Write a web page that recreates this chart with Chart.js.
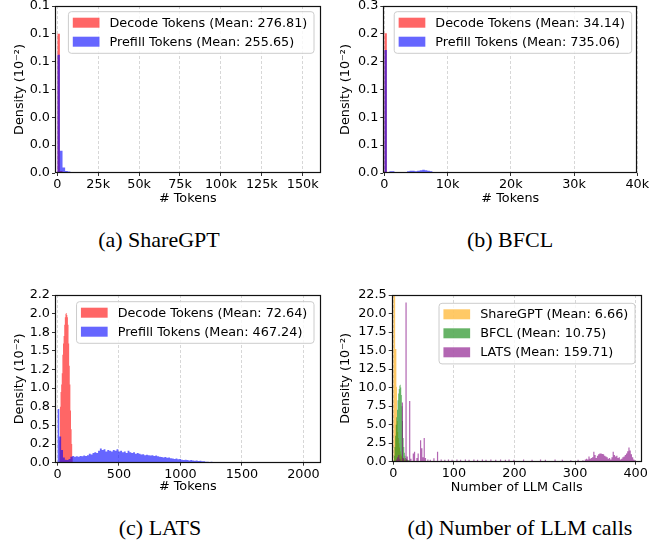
<!DOCTYPE html>
<html>
<head>
<meta charset="utf-8">
<script src="https://cdn.jsdelivr.net/npm/chart.js@4.4.1/dist/chart.umd.min.js"></script>
<style>
  body { margin: 0; background: #fff; }
  #page { position: relative; width: 659px; height: 541px; overflow: hidden; background: #fff; }
  canvas { position: absolute; }
  .caption { position: absolute; font-family: "Liberation Serif", "Times New Roman", serif; font-size: 22px; line-height: 24px; text-align: center; color: #000; white-space: nowrap; }
</style>
</head>
<body>
<div id="page">
  <canvas id="chartA" width="329" height="215" style="left:0;top:0"></canvas>
  <canvas id="chartB" width="329" height="215" style="left:330px;top:0"></canvas>
  <canvas id="chartC" width="329" height="215" style="left:0;top:280px"></canvas>
  <canvas id="chartD" width="329" height="215" style="left:330px;top:280px"></canvas>
  <div class="caption" style="left:0;top:228px;width:318px">(a) ShareGPT</div>
  <div class="caption" style="left:380px;top:228px;width:260px">(b) BFCL</div>
  <div class="caption" style="left:0;top:516px;width:320px">(c) LATS</div>
  <div class="caption" style="left:380px;top:516px;width:280px">(d) Number of LLM calls</div>
</div>
<script>
// (a) ShareGPT token histogram, bins of 1600 tokens starting at 0
var sharegptBinWidth = 1600;
var sharegptDecode = [0.100, 0.0015, 0.0003];
var sharegptPrefill = [0.085, 0.016, 0.004, 0.0015, 0.001, 0.0006, 0.0004, 0.0003, 0.0002, 0.0002];

// (b) BFCL token histogram, bins of 400 tokens starting at 0
var bfclBinWidth = 400;
var bfclDecode = [0.251, 0.0005];
var bfclPrefill = [0.221, 0.002, 0.003, 0.003, 0.002, 0.001, 0.001, 0.001, 0.002, 0.003,
                   0.004, 0.004, 0.003, 0.004, 0.005, 0.006, 0.005, 0.004, 0.003, 0.001];

// (c) LATS token histogram
var latsDecodeFirstBin = 15, latsDecodeBinWidth = 5;
var latsDecode = [0.3, 0.75, 0.95, 1.05, 1.2, 1.45, 1.6, 1.7, 1.85, 1.95, 2.0, 2.01,
                  1.98, 1.95, 1.85, 1.6, 1.3, 1.05, 0.7, 0.45, 0.25, 0.08];
var latsPrefillFirstBin = 0, latsPrefillBinWidth = 15;
var latsPrefill = [
  0.72, 0.35, 0.17, 0.07, 0.04, 0.035, 0.05, 0.08, 0.09, 0.08,
  0.085, 0.08, 0.09, 0.085, 0.095, 0.09, 0.10, 0.12, 0.11, 0.13,
  0.14, 0.13, 0.16, 0.19, 0.17, 0.18, 0.15, 0.17, 0.16, 0.15,
  0.17, 0.16, 0.18, 0.15, 0.16, 0.14, 0.15, 0.13, 0.16, 0.14,
  0.13, 0.14, 0.12, 0.13, 0.12, 0.11, 0.115, 0.10, 0.105, 0.10,
  0.095, 0.10, 0.09, 0.095, 0.085, 0.08, 0.075, 0.07, 0.075, 0.065,
  0.07, 0.06, 0.055, 0.05, 0.055, 0.045, 0.05, 0.04, 0.035, 0.04,
  0.035, 0.03, 0.035, 0.03, 0.025, 0.028, 0.022, 0.025, 0.018, 0.02,
  0.012, 0.014, 0.01, 0.012, 0.008, 0.009, 0.006, 0.007, 0.005, 0.006,
  0.004, 0.004, 0.003, 0.004, 0.003, 0.002, 0.003, 0.002, 0.002, 0.003,
  0.002, 0.002, 0.001, 0.002, 0.001, 0.002, 0.001, 0.002, 0.001
];

// (d) number of LLM calls
var sharegptCallsFirstBin = 0, sharegptCallsBinWidth = 1;
var sharegptCalls = [24, 24, 24, 15.2, 15.2, 10.1, 5.5, 4.0, 3.2, 2.5, 1.9, 1.4, 1.0, 0.8, 0.6, 0.5,
                     0.4, 0.35, 0.3, 0.25, 0.2, 0.2, 0.15, 0.15, 0.12, 0.1, 0.1, 0.08, 0.08, 0.06, 0.05];
var bfclCallsFirstBin = 1, bfclCallsBinWidth = 1;
var bfclCalls = [0.8, 2.0, 3.5, 5.0, 6.0, 7.0, 8.3, 9.2, 9.8, 10.3, 10.4, 10.0, 9.0, 7.5, 5.5, 3.2,
                 2.0, 1.2, 0.8, 0.5, 0.4, 0.3, 0.25, 0.2, 0.18, 0.15, 0.12, 0.1, 0.1, 0.08,
                 0.07, 0.06, 0.05, 0.05, 0.04, 0.04, 0.03, 0.03, 0.03, 0.02];
var latsCallsBinWidth = 2;
var latsCallsStarts = [
  4, 6, 8, 10, 14, 16, 20, 22, 26, 28,
  32, 34, 38, 40, 44, 46, 48, 50, 52, 56,
  60, 66, 72, 78, 84, 90, 96, 104, 110, 118,
  124, 132, 138, 146, 152, 160, 168, 176, 184, 190,
  198, 214, 228, 242, 250, 266, 278, 292, 304,
  312, 314, 316, 318, 320, 322, 324, 326, 328, 330,
  332, 334, 336, 338, 340, 342, 344, 346, 348, 350,
  352, 354, 356, 358, 360, 362, 364, 366, 368, 370,
  372, 374, 376, 378, 380, 382, 384, 386, 388, 390,
  392, 394, 396, 398, 400
];
var latsCalls = [
  0.3, 0.6, 0.9, 0.4, 8.0, 0.5, 21.5, 0.7, 8.2, 0.4,
  1.1, 1.35, 0.5, 1.1, 2.9, 1.8, 0.6, 3.2, 0.5, 0.3,
  0.25, 0.45, 1.35, 0.3, 0.25, 0.3, 0.25, 0.3, 0.25, 0.3,
  0.25, 0.3, 0.25, 0.3, 0.25, 0.3, 0.25, 0.3, 0.25, 0.3,
  0.25, 0.3, 0.25, 0.3, 0.25, 0.3, 0.25, 0.2, 0.25,
  0.2, 0.1, 0.3, 0.4, 0.3, 0.7, 0.4, 0.5, 0.6, 1.35,
  0.9, 0.5, 0.8, 1.0, 1.1, 1.1, 1.05, 1.0, 0.8, 0.7,
  0.6, 0.4, 0.5, 0.3, 0.6, 1.35, 0.9, 0.7, 0.8, 0.5,
  0.6, 0.3, 0.4, 0.6, 0.7, 0.9, 1.1, 1.4, 1.9, 1.5,
  1.0, 0.6, 0.3, 0.2, 0.1
];

// axis ticks
var tokenTicksA = [0, 25000, 50000, 75000, 100000, 125000, 150000];
var tokenLabelsA = ['0', '25k', '50k', '75k', '100k', '125k', '150k'];
var tokenTicksB = [0, 10000, 20000, 30000, 40000];
var tokenLabelsB = ['0', '10k', '20k', '30k', '40k'];
var tokenTicksC = [0, 500, 1000, 1500, 2000];
var tokenLabelsC = ['0', '500', '1000', '1500', '2000'];
var callTicks = [0, 100, 200, 300, 400];
var callLabels = ['0', '100', '200', '300', '400'];
var densityTicksA = [0, 0.02, 0.04, 0.06, 0.08, 0.10, 0.12];
var densityLabelsA = ['0.0', '0.0', '0.0', '0.1', '0.1', '0.1', '0.1'];
var densityTicksB = [0, 0.05, 0.10, 0.15, 0.20, 0.25, 0.30];
var densityLabelsB = ['0.0', '0.1', '0.1', '0.1', '0.2', '0.2', '0.3'];
var densityTicksC = [0, 0.25, 0.5, 0.75, 1.0, 1.25, 1.5, 1.75, 2.0, 2.25];
var densityLabelsC = ['0.0', '0.2', '0.5', '0.8', '1.0', '1.2', '1.5', '1.8', '2.0', '2.2'];
var densityTicksD = [0, 2.5, 5, 7.5, 10, 12.5, 15, 17.5, 20, 22.5];
var densityLabelsD = ['0.0', '2.5', '5.0', '7.5', '10.0', '12.5', '15.0', '17.5', '20.0', '22.5'];

var RED = 'rgba(255,0,0,0.6)', BLUE = 'rgba(0,0,255,0.6)';
var ORANGE = 'rgba(255,165,0,0.6)', GREEN = 'rgba(0,128,0,0.6)', PURPLE = 'rgba(128,0,128,0.6)';
var FONT = '"DejaVu Sans", sans-serif';
var FONT_SIZE = 12.8;

Chart.defaults.font.family = FONT;
Chart.defaults.font.size = FONT_SIZE;
Chart.defaults.color = '#000';

// bin start positions for a run of equal bins
function evenStarts(first, width, count) {
  var s = [];
  for (var i = 0; i < count; i++) s.push(first + i * width);
  return s;
}

// histogram outline as points for a stepped line (drops to 0 where bins are not adjacent)
function histPoints(starts, values, width) {
  var pts = [];
  for (var i = 0; i < starts.length; i++) {
    var end = starts[i] + width;
    pts.push({ x: starts[i], y: values[i] });
    if (i === starts.length - 1 || starts[i + 1] !== end) pts.push({ x: end, y: 0 });
  }
  return pts;
}

// black box round the plot area
var framePlugin = {
  id: 'frame',
  afterDraw: function (chart) {
    var a = chart.chartArea, ctx = chart.ctx;
    ctx.save();
    ctx.strokeStyle = '#111';
    ctx.lineWidth = 1.2;
    ctx.strokeRect(Math.round(a.left) + 0.5, Math.round(a.top) + 0.5,
                   Math.round(a.right) - Math.round(a.left) - 1, Math.round(a.bottom) - Math.round(a.top) - 1);
    ctx.restore();
  }
};

// matplotlib style legend in the upper right
var boxLegendPlugin = {
  id: 'boxLegend',
  afterDraw: function (chart, args, opts) {
    var ctx = chart.ctx, sets = chart.data.datasets;
    ctx.save();
    ctx.font = FONT_SIZE + 'px ' + FONT;
    var textW = Math.max.apply(null, sets.map(function (d) { return ctx.measureText(d.label).width; }));
    var w = 4.4 + 26.7 + 10 + textW + 6.7;
    var h = 22.6 + 19 * (sets.length - 1);
    var x = opts.right - w, y = opts.top, r = 3;
    ctx.beginPath();
    ctx.moveTo(x + r, y);
    ctx.arcTo(x + w, y, x + w, y + h, r);
    ctx.arcTo(x + w, y + h, x, y + h, r);
    ctx.arcTo(x, y + h, x, y, r);
    ctx.arcTo(x, y, x + w, y, r);
    ctx.closePath();
    ctx.fillStyle = 'rgba(255,255,255,0.8)';
    ctx.fill();
    ctx.strokeStyle = '#cccccc';
    ctx.lineWidth = 1;
    ctx.stroke();
    sets.forEach(function (d, i) {
      var cy = y + 11 + 19 * i;
      ctx.fillStyle = d.backgroundColor;
      ctx.fillRect(x + 4.4, cy - 5, 26.7, 10);
      ctx.fillStyle = '#000';
      ctx.textBaseline = 'middle';
      ctx.textAlign = 'left';
      ctx.fillText(d.label, x + 41.1, cy + 0.5);
    });
    ctx.restore();
  }
};

function drawPanel(id, p) {
  var n = p.series.length;
  return new Chart(document.getElementById(id), {
    type: 'line',
    data: {
      datasets: p.series.map(function (s, i) {
        return {
          label: s.label,
          data: histPoints(s.starts, s.values, s.width),
          backgroundColor: s.color,
          borderColor: 'rgba(0,0,0,0)',
          borderWidth: 0,
          pointRadius: 0,
          stepped: true,
          fill: 'origin',
          order: n - i
        };
      })
    },
    options: {
      responsive: false,
      animation: false,
      events: [],
      layout: { padding: { top: p.top, right: p.right, left: 0, bottom: 0 } },
      plugins: {
        legend: { display: false },
        tooltip: { enabled: false },
        boxLegend: p.legend
      },
      scales: {
        x: {
          type: 'linear',
          min: p.xMin,
          max: p.xMax,
          afterBuildTicks: function (s) { s.ticks = p.xTicks.map(function (v) { return { value: v }; }); },
          afterFit: function (s) { s.height = p.axisH; s.paddingLeft = 0; s.paddingRight = 0; },
          ticks: { autoSkip: false, maxRotation: 0, padding: 1, callback: function (v, i) { return p.xLabels[i]; } },
          grid: { color: 'rgba(0,0,0,0.2)', lineWidth: 0.8, tickLength: 3, tickColor: '#000', tickWidth: 0.8, tickBorderDash: [] },
          border: { display: false, dash: [3, 2] },
          title: { display: true, text: p.xTitle, padding: { top: 0, bottom: p.xTitlePad } }
        },
        y: {
          min: 0,
          max: p.yMax,
          afterBuildTicks: function (s) { s.ticks = p.yTicks.map(function (v) { return { value: v }; }); },
          afterFit: function (s) { s.width = p.axisW; s.paddingTop = 0; s.paddingBottom = 0; },
          ticks: { autoSkip: false, padding: 2, callback: function (v, i) { return p.yLabels[i]; } },
          grid: { drawOnChartArea: false, tickLength: 3, tickColor: '#000', tickWidth: 0.8 },
          border: { display: false },
          title: { display: true, text: 'Density (10\u207B\u00B2)', padding: { top: p.yTitlePad, bottom: 0 } }
        }
      }
    },
    plugins: [framePlugin, boxLegendPlugin]
  });
}

drawPanel('chartA', {
  series: [
    { label: 'Decode Tokens (Mean: 276.81)', color: RED, width: sharegptBinWidth,
      starts: evenStarts(0, sharegptBinWidth, sharegptDecode.length), values: sharegptDecode },
    { label: 'Prefill Tokens (Mean: 255.65)', color: BLUE, width: sharegptBinWidth,
      starts: evenStarts(0, sharegptBinWidth, sharegptPrefill.length), values: sharegptPrefill }
  ],
  xMin: -1400, xMax: 161000, xTicks: tokenTicksA, xLabels: tokenLabelsA, xTitle: '# Tokens',
  yMax: 0.12, yTicks: densityTicksA, yLabels: densityLabelsA,
  top: 6, right: 8.3, axisW: 55, axisH: 42, xTitlePad: 9, yTitlePad: 12,
  legend: { right: 314, top: 11.7 }
});

drawPanel('chartB', {
  series: [
    { label: 'Decode Tokens (Mean: 34.14)', color: RED, width: bfclBinWidth,
      starts: evenStarts(0, bfclBinWidth, bfclDecode.length), values: bfclDecode },
    { label: 'Prefill Tokens (Mean: 735.06)', color: BLUE, width: bfclBinWidth,
      starts: evenStarts(0, bfclBinWidth, bfclPrefill.length), values: bfclPrefill }
  ],
  xMin: -160, xMax: 40000, xTicks: tokenTicksB, xLabels: tokenLabelsB, xTitle: '# Tokens',
  yMax: 0.3, yTicks: densityTicksB, yLabels: densityLabelsB,
  top: 6, right: 21.7, axisW: 53.3, axisH: 42, xTitlePad: 9, yTitlePad: 8,
  legend: { right: 301.7, top: 11.7 }
});

drawPanel('chartC', {
  series: [
    { label: 'Decode Tokens (Mean: 72.64)', color: RED, width: latsDecodeBinWidth,
      starts: evenStarts(latsDecodeFirstBin, latsDecodeBinWidth, latsDecode.length), values: latsDecode },
    { label: 'Prefill Tokens (Mean: 467.24)', color: BLUE, width: latsPrefillBinWidth,
      starts: evenStarts(latsPrefillFirstBin, latsPrefillBinWidth, latsPrefill.length), values: latsPrefill }
  ],
  xMin: -20, xMax: 2140, xTicks: tokenTicksC, xLabels: tokenLabelsC, xTitle: '# Tokens',
  yMax: 2.25, yTicks: densityTicksC, yLabels: densityLabelsC,
  top: 15, right: 8.3, axisW: 55, axisH: 32.3, xTitlePad: 0.5, yTitlePad: 12,
  legend: { right: 314, top: 21.7 }
});

drawPanel('chartD', {
  series: [
    { label: 'ShareGPT (Mean: 6.66)', color: ORANGE, width: sharegptCallsBinWidth,
      starts: evenStarts(sharegptCallsFirstBin, sharegptCallsBinWidth, sharegptCalls.length), values: sharegptCalls },
    { label: 'BFCL (Mean: 10.75)', color: GREEN, width: bfclCallsBinWidth,
      starts: evenStarts(bfclCallsFirstBin, bfclCallsBinWidth, bfclCalls.length), values: bfclCalls },
    { label: 'LATS (Mean: 159.71)', color: PURPLE, width: latsCallsBinWidth,
      starts: latsCallsStarts, values: latsCalls }
  ],
  xMin: -2.7, xMax: 410, xTicks: callTicks, xLabels: callLabels, xTitle: 'Number of LLM Calls',
  yMax: 22.5, yTicks: densityTicksD, yLabels: densityLabelsD,
  top: 15, right: 17.3, axisW: 61.7, axisH: 33.3, xTitlePad: 0, yTitlePad: 8,
  legend: { right: 305, top: 23.3 }
});
</script>
</body>
</html>
